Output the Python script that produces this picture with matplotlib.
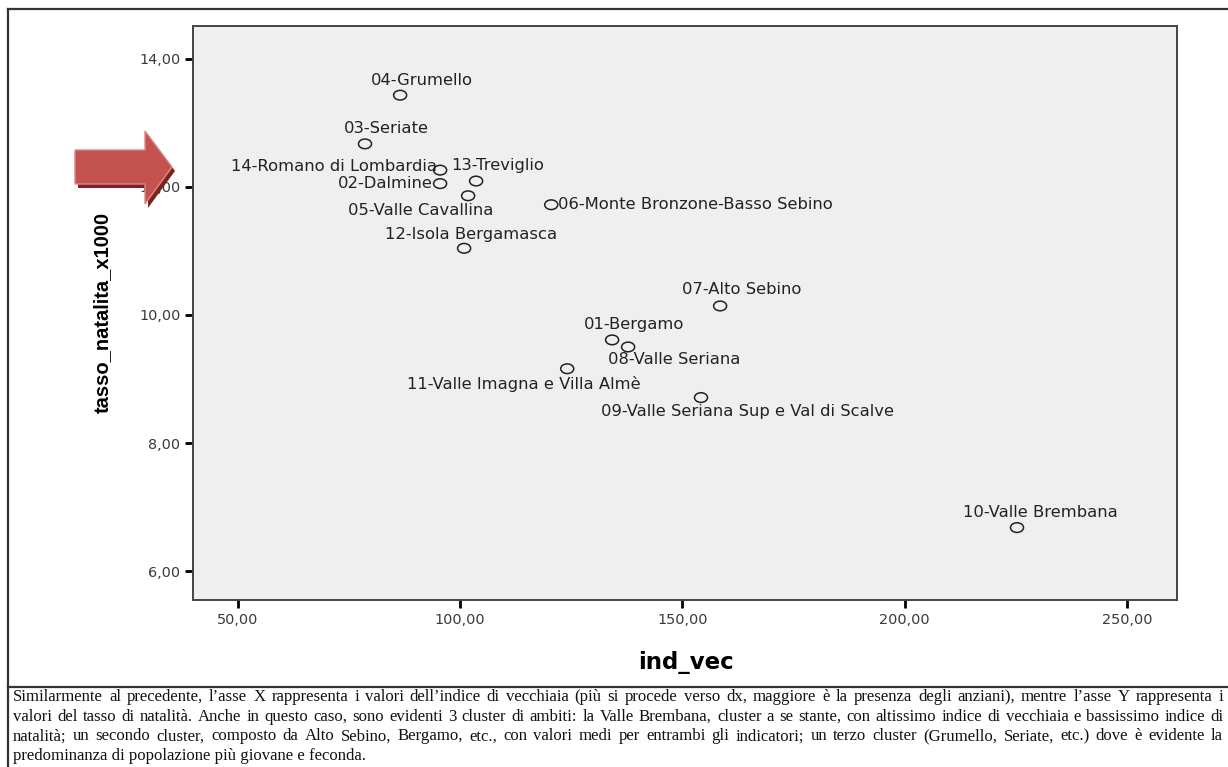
import numpy as np
import matplotlib
matplotlib.use('Agg')
import matplotlib.pyplot as plt
from matplotlib.path import Path
from matplotlib.patches import Polygon
from matplotlib.lines import Line2D
from matplotlib.transforms import Affine2D
from matplotlib.ticker import FuncFormatter

# data (ind_vec vs tasso_natalita_x1000)
ambiti = ['04-Grumello', '03-Seriate', '14-Romano di Lombardia', '13-Treviglio',
          '02-Dalmine', '05-Valle Cavallina', '06-Monte Bronzone-Basso Sebino',
          '12-Isola Bergamasca', '07-Alto Sebino', '01-Bergamo', '08-Valle Seriana',
          '11-Valle Imagna e Villa Almè', '09-Valle Seriana Sup e Val di Scalve',
          '10-Valle Brembana']
ind_vec = [86.5, 78.6, 95.5, 103.6, 95.5, 101.8, 120.5,
           100.9, 158.5, 134.2, 137.8, 124.1, 154.2, 225.3]
tasso_natalita = [13.43, 12.67, 12.26, 12.09, 12.05, 11.86, 11.72,
                  11.04, 10.14, 9.61, 9.50, 9.16, 8.71, 6.68]

x_ticks = [50, 100, 150, 200, 250]
y_ticks = [6, 8, 10, 12, 14]

caption = [
    "Similarmente al precedente, l\u2019asse X rappresenta i valori dell\u2019indice di vecchiaia (più si procede verso dx, maggiore è la presenza degli anziani), mentre l\u2019asse Y rappresenta i",
    "valori del tasso di natalità. Anche in questo caso, sono evidenti 3 cluster di ambiti: la Valle Brembana, cluster a se stante, con altissimo indice di vecchiaia e bassissimo indice di",
    "natalità; un secondo cluster, composto da Alto Sebino, Bergamo, etc., con valori medi per entrambi gli indicatori; un terzo cluster (Grumello, Seriate, etc.) dove è evidente la",
    "predominanza di popolazione più giovane e feconda.",
]

# label placement (offset in pixels, horizontal alignment)
label_pos = [(22, 15, 'center'), (21, 15, 'center'), (-3, 4, 'right'), (22, 16, 'center'),
             (-7, 0, 'right'), (-47, -15, 'center'), (7, 0, 'left'),
             (7, 14, 'center'), (22, 16, 'center'), (22, 15, 'center'), (46, -13, 'center'),
             (-43, -15, 'center'), (47, -14, 'center'), (23, 15, 'center')]

W, H = 1228, 767
fig = plt.figure(figsize=(W / 100, H / 100), dpi=100)
fig.patch.set_facecolor('white')

# axes box in pixel coords: left 193, right 1177, top 26, bottom 600
ax = fig.add_axes([193 / W, 1 - 600 / H, (1177 - 193) / W, (600 - 26) / H])
ax.set_facecolor('#efefef')

ellipse = Path.unit_circle().transformed(Affine2D().scale(1.35, 1.0))
ax.scatter(ind_vec, tasso_natalita, marker=ellipse, s=88, facecolors='none',
           edgecolors='#222222', linewidths=1.1, zorder=3)

for name, x, y, (dx, dy, ha) in zip(ambiti, ind_vec, tasso_natalita, label_pos):
    ax.annotate(name, (x, y), xytext=(dx, dy), textcoords='offset pixels',
                ha=ha, va='center', fontsize=11.8, color='#222222',
                family='DejaVu Sans')

ax.set_xlim(39.9, 261.3)
ax.set_ylim(5.55, 14.51)
ax.set_xticks(x_ticks)
ax.set_yticks(y_ticks)
fmt = FuncFormatter(lambda v, p: ('%.2f' % v).replace('.', ','))
ax.xaxis.set_major_formatter(fmt)
ax.yaxis.set_major_formatter(fmt)
ax.tick_params(direction='out', length=6, width=2, color='black',
               labelsize=10.4, labelcolor='#3a3a3a', pad=3)
for s in ax.spines.values():
    s.set_color('#444444')
    s.set_linewidth(1.4)

ax.set_xlabel('ind_vec', fontsize=16.5, fontweight='bold', family='DejaVu Sans')
ax.set_ylabel('tasso_natalita_x1000', fontsize=14.5, fontweight='bold',
              family='Liberation Sans')
ax.xaxis.set_label_coords((686 - 193) / (1177 - 193), -(651 - 600) / (600 - 26))
ax.yaxis.set_label_coords(-(193 - 112) / (1177 - 193), (600 - 312) / (600 - 26))

# page frame lines
def px(x, y):
    return x / W, 1 - y / H

fig.add_artist(Line2D([px(8, 0)[0], px(8, 0)[0]], [px(0, 9)[1], 0],
                      color='#333333', lw=1.6))
fig.add_artist(Line2D([px(8, 0)[0], 1], [px(0, 9)[1], px(0, 9)[1]],
                      color='#333333', lw=1.6))
fig.add_artist(Line2D([px(8, 0)[0], 1], [px(0, 687)[1], px(0, 687)[1]],
                      color='#333333', lw=1.6))

# red arrow pointing at the y axis
arrow = [(75, 150), (145, 150), (145, 131), (172, 167), (145, 204), (145, 184), (75, 184)]
shadow = Polygon([px(x + 3, y + 4) for x, y in arrow], closed=True,
                 transform=fig.transFigure, facecolor='#7a2222', edgecolor='none')
main = Polygon([px(x, y) for x, y in arrow], closed=True,
               transform=fig.transFigure, facecolor='#c4524f', edgecolor='#d98a88', lw=1)
fig.add_artist(shadow)
fig.add_artist(main)

# caption under the chart, justified lines
renderer = fig.canvas.get_renderer()
cap_kw = dict(fontsize=12.1, family='Liberation Serif', color='#111111',
              va='center', ha='left')
x0, x1 = 13, 1223
for i, line in enumerate(caption):
    yy = 1 - (697 + 19.7 * i) / H
    if i == len(caption) - 1:
        fig.text(x0 / W, yy, line, **cap_kw)
        continue
    words = line.split(' ')
    texts = [fig.text(0, yy, w, **cap_kw) for w in words]
    widths = [t.get_window_extent(renderer).width for t in texts]
    gap = (x1 - x0 - sum(widths)) / (len(words) - 1)
    xp = x0
    for t, w in zip(texts, widths):
        t.set_x(xp / W)
        xp += w + gap

fig.savefig('out.png', dpi=100)
